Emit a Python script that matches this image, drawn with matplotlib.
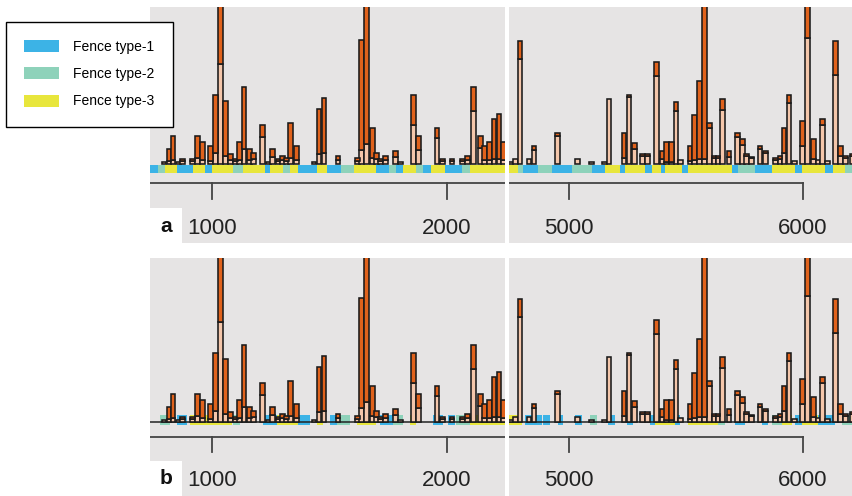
import matplotlib
matplotlib.use("Agg")
import matplotlib.pyplot as plt
from matplotlib.patches import Patch, Rectangle

plt.rcParams['font.family'] = ['Liberation Sans', 'DejaVu Sans']

# read coverage: bar start (bp), total height, orange part on top
left_pos = [786, 807, 824, 847, 864, 906, 927, 949, 984, 1005, 1027, 1048, 1069, 1090,
            1107, 1126, 1150, 1168, 1204, 1229, 1246, 1271, 1289, 1307, 1324, 1349,
            1424, 1445, 1466, 1526, 1608, 1626, 1648, 1672, 1689, 1707, 1729, 1771,
            1792, 1849, 1870, 1948, 1972, 2012, 2055, 2076, 2104, 2133, 2150, 2170,
            2190, 2211, 2232]
left_h = [2, 15, 28, 2, 5, 5, 28, 22, 18, 69, 170, 63, 10, 5,
          22, 77, 15, 11, 39, 2, 15, 5, 8, 6, 41, 18,
          2, 55, 66, 8, 6, 124, 170, 36, 11, 5, 8, 13,
          2, 69, 28, 36, 5, 5, 5, 8, 77, 28, 18, 22,
          45, 50, 22]
left_o = [0, 12, 24, 0, 2, 2, 22, 18, 15, 58, 70, 55, 6, 2,
          18, 62, 11, 6, 12, 0, 8, 2, 4, 3, 35, 14,
          0, 45, 55, 4, 3, 110, 150, 30, 6, 2, 4, 6,
          0, 30, 14, 10, 2, 2, 2, 4, 24, 12, 14, 18,
          40, 45, 18]

right_pos = [4741, 4762, 4781, 4819, 4841, 4940, 5026, 5086, 5143, 5161, 5225, 5247,
             5271, 5304, 5325, 5365, 5389, 5408, 5428, 5448, 5468, 5508, 5528, 5549,
             5570, 5592, 5610, 5627, 5646, 5674, 5710, 5731, 5750, 5771, 5807, 5831,
             5874, 5892, 5909, 5931, 5955, 5988, 6009, 6035, 6055, 6073, 6095, 6130,
             6152, 6173, 6201]
right_h = [2, 5, 123, 5, 18, 31, 5, 2, 2, 65, 31, 69,
           21, 10, 10, 102, 13, 22, 22, 62, 4, 18, 49, 83,
           170, 41, 8, 8, 65, 13, 31, 25, 10, 7, 18, 13,
           6, 8, 36, 69, 3, 43, 170, 25, 4, 45, 3, 123,
           18, 8, 10]
right_o = [0, 0, 18, 0, 4, 3, 0, 0, 0, 0, 25, 2,
           6, 2, 2, 14, 8, 20, 20, 9, 0, 15, 45, 78,
           165, 5, 2, 2, 11, 6, 4, 6, 2, 1, 3, 2,
           2, 3, 25, 8, 0, 25, 44, 20, 0, 6, 0, 34,
           10, 2, 2]

# fence segments: (start, end, type)
fence_a_left = [(736, 771, 1), (771, 800, 2), (800, 849, 3), (849, 920, 1), (920, 970, 3),
                (970, 998, 1), (998, 1090, 3), (1090, 1133, 2), (1133, 1225, 3),
                (1225, 1246, 1), (1246, 1300, 3), (1300, 1330, 2), (1330, 1367, 3),
                (1367, 1445, 1), (1445, 1488, 3), (1488, 1551, 1), (1551, 1604, 2),
                (1604, 1700, 3), (1700, 1755, 1), (1755, 1785, 2), (1785, 1814, 1),
                (1814, 1870, 3), (1870, 1899, 2), (1899, 1934, 1), (1934, 1991, 3),
                (1991, 2062, 1), (2062, 2097, 2), (2097, 2247, 3)]
fence_a_right = [(4743, 4784, 3), (4784, 4805, 2), (4805, 4869, 1), (4869, 4926, 2),
                 (4926, 5012, 1), (5012, 5097, 2), (5097, 5154, 1), (5154, 5218, 3),
                 (5218, 5240, 1), (5240, 5325, 3), (5325, 5354, 1), (5354, 5395, 3),
                 (5395, 5410, 1), (5410, 5482, 3), (5482, 5510, 1), (5510, 5696, 3),
                 (5696, 5724, 1), (5724, 5795, 2), (5795, 5867, 1), (5867, 5966, 3),
                 (5966, 5995, 1), (5995, 6095, 3), (6095, 6130, 1), (6130, 6180, 3),
                 (6180, 6214, 2)]
fence_b_left = [(779, 821, 2), (849, 892, 1), (906, 1083, 3), (1090, 1119, 2),
                (1218, 1275, 1), (1275, 1367, 3), (1367, 1417, 1), (1445, 1473, 3),
                (1502, 1530, 1), (1530, 1587, 2), (1615, 1700, 3), (1714, 1771, 1),
                (1771, 1814, 2), (1842, 1870, 3), (1941, 1984, 1), (2005, 2033, 1),
                (2040, 2097, 2), (2097, 2247, 3)]
fence_b_right = [(4741, 4798, 3), (4812, 4883, 1), (4890, 4919, 1), (4955, 4976, 1),
                 (5026, 5054, 1), (5090, 5118, 2), (5168, 5197, 1), (5247, 5275, 1),
                 (5346, 5368, 1), (5368, 5453, 3), (5453, 5475, 1), (5510, 5639, 3),
                 (5639, 5667, 2), (5710, 5753, 1), (5824, 5852, 1), (5867, 5909, 2),
                 (5909, 5952, 3), (5966, 5995, 1), (5995, 6066, 3), (6066, 6137, 1),
                 (6166, 6209, 2)]

left_ticks = [1000, 2000]
right_ticks = [5000, 6000]
fence_names = ['Fence type-1', 'Fence type-2', 'Fence type-3']

ORANGE = '#e0621c'
BEIGE = '#f4c6aa'
BG = '#e6e4e4'
FENCE_COL = {1: '#3cb3e6', 2: '#8ed2ba', 3: '#e8e63c'}
W = 20


def draw_panel(ax, pos, h, o, fence, xlim, ticks, line_end, row):
    ax.set_facecolor(BG)
    if row == 'a':
        ylim = (-79, 157)
        fy, fh = -9, 8
        line_y, tick_lo, lab_y = -19, -35, -64
    else:
        ylim = (-74, 164)
        fy, fh = -3, 10
        line_y, tick_lo, lab_y = -15, -30, -58

    # fence strip
    for t in (1, 2, 3):
        segs = [(s, e - s) for s, e, k in fence if k == t]
        ax.broken_barh(segs, (fy, fh), facecolors=FENCE_COL[t], zorder=1)
    if row == 'b':
        ax.plot(xlim, [0, 0], color='#222222', lw=1.1, zorder=2)

    beige = [hh - oo for hh, oo in zip(h, o)]
    ax.bar(pos, beige, width=W, align='edge', color=BEIGE, edgecolor='#1a1a1a',
           linewidth=1.15, zorder=3)
    op = [(p, b, oo) for p, b, oo in zip(pos, beige, o) if oo > 0]
    ax.bar([p for p, _, _ in op], [oo for _, _, oo in op], bottom=[b for _, b, _ in op],
           width=W, align='edge', color=ORANGE, edgecolor='#1a1a1a', linewidth=1.15,
           zorder=3)

    # coordinate axis drawn inside the panel
    ax.plot([xlim[0], line_end], [line_y, line_y], color='#444444', lw=1.3, zorder=4)
    for t in ticks:
        ax.plot([t, t], [line_y, tick_lo], color='#444444', lw=1.3, zorder=4)
        ax.text(t, lab_y, str(t), ha='center', va='center', fontsize=16,
                color='#222222', zorder=5)

    ax.set_xlim(*xlim)
    ax.set_ylim(*ylim)
    ax.set_xticks([])
    ax.set_yticks([])
    for s in ax.spines.values():
        s.set_visible(False)


fig = plt.figure(figsize=(8.53, 4.96), dpi=100)
fw, fhh = 853, 496


def add_ax(x0, y0, x1, y1):
    return fig.add_axes([x0 / fw, 1 - y1 / fhh, (x1 - x0) / fw, (y1 - y0) / fhh])


ax_al = add_ax(150, 7, 505, 243)
ax_ar = add_ax(509, 7, 853, 243)
ax_bl = add_ax(150, 258, 505, 496)
ax_br = add_ax(509, 258, 853, 496)

draw_panel(ax_al, left_pos, left_h, left_o, fence_a_left, (736, 2247), left_ticks, 2247, 'a')
draw_panel(ax_ar, right_pos, right_h, right_o, fence_a_right, (4744, 6214), right_ticks, 6000, 'a')
draw_panel(ax_bl, left_pos, left_h, left_o, fence_b_left, (736, 2247), left_ticks, 2247, 'b')
draw_panel(ax_br, right_pos, right_h, right_o, fence_b_right, (4744, 6214), right_ticks, 6000, 'b')

# panel letters in white boxes
for ax, letter in ((ax_al, 'a'), (ax_bl, 'b')):
    ax.add_patch(Rectangle((0, 0), 32 / 355, 35 / 236, transform=ax.transAxes,
                           facecolor='white', edgecolor='none', zorder=6))
    ax.text(16 / 355, 17 / 236, letter, transform=ax.transAxes, ha='center', va='center',
            fontsize=15, fontweight='bold', color='#111111', zorder=7)

handles = [Patch(facecolor=FENCE_COL[i + 1], edgecolor='none', label=n)
           for i, n in enumerate(fence_names)]
leg = fig.legend(handles=handles, loc='upper left', bbox_to_anchor=(6 / fw, 1 - 22 / fhh),
                 bbox_transform=fig.transFigure, borderaxespad=0, fontsize=10,
                 frameon=True, fancybox=False, edgecolor='black', framealpha=1,
                 handlelength=2.55, handleheight=0.95, handletextpad=1.0,
                 labelspacing=0.95, borderpad=1.3)
leg.get_frame().set_linewidth(1.0)

fig.savefig('out.png', dpi=100, facecolor='white')
